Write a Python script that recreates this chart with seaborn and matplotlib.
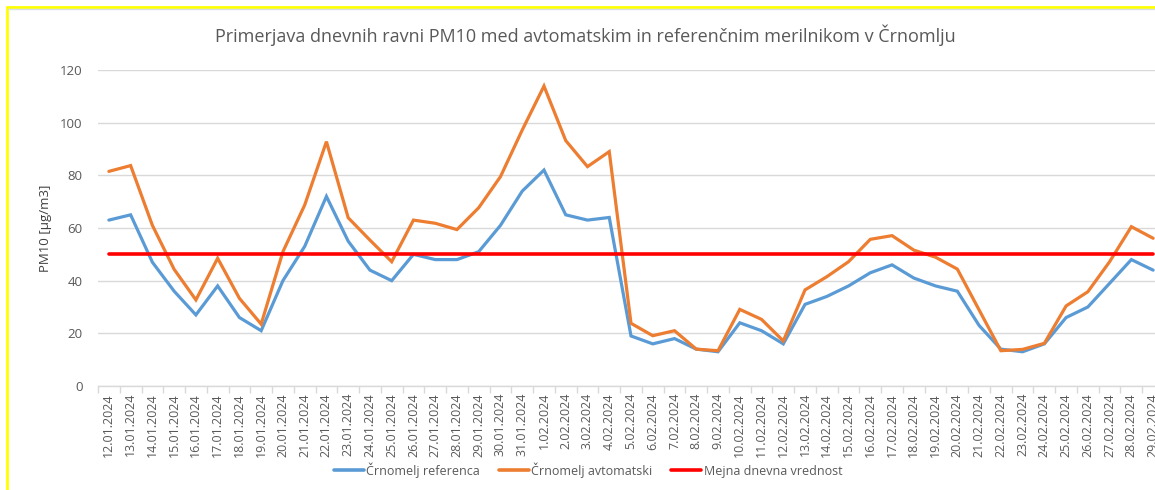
import numpy as np
import pandas as pd
import matplotlib
matplotlib.use("Agg")
import matplotlib.pyplot as plt
import seaborn as sns
from matplotlib.lines import Line2D

dates = (["%d.01.2024" % d for d in range(12, 32)] +
         ["%d.02.2024" % d for d in range(1, 30)])

referenca = [63, 65, 47, 36, 27, 38, 26, 21, 40, 53, 72, 55, 44, 40, 50, 48, 48,
             51, 61, 74, 82, 65, 63, 64, 19, 16, 18, 14, 13, 24, 21, 16,
             31, 34, 38, 43, 46, 41, 38, 36, 23, 14, 13, 16, 26, 30, 39, 48, 44]
avtomatski = [81.5, 83.7, 61, 44.3, 32.7, 48.5, 33.3, 23.5, 51, 68.7, 92.8, 63.9, 55.4,
              47.2, 63, 61.8, 59.4, 67.7, 79.5, 97.2, 113.9, 93.2, 83.3, 89, 23.8, 19.1,
              21, 14, 13.4, 29.1, 25.3, 17.1, 36.5, 41.5, 47.2, 55.7, 57.1, 51.6, 48.9,
              44.4, 28.9, 13.4, 13.9, 16.2, 30.4, 35.8, 47.2, 60.5, 56.1]
mejna = [50] * len(dates)

series_names = ["Črnomelj referenca", "Črnomelj avtomatski", "Mejna dnevna vrednost"]
colors = ["#5B9BD5", "#ED7D31", "#FF0000"]

sns.set_theme(style="white")
plt.rcParams['font.family'] = ['Open Sans', 'DejaVu Sans']

fig = plt.figure(figsize=(11.55, 4.9), dpi=100)
W, H = 1155, 490
ax_left, ax_right = 98, 1164
ax_bottom, ax_top = 386, 70
ax = fig.add_axes([ax_left / W, (H - ax_bottom) / H,
                   (ax_right - ax_left) / W, (ax_bottom - ax_top) / H])

x = np.arange(len(dates))
df = pd.DataFrame({"x": x, "ref": referenca, "avt": avtomatski, "mej": mejna})
for col, name, c, lw in zip(["ref", "avt", "mej"], series_names, colors, [2.3, 2.3, 2.6]):
    sns.lineplot(data=df, x="x", y=col, ax=ax, color=c, linewidth=lw,
                 label=name, legend=False, solid_joinstyle="miter")

ax.set_xlim(-0.5, len(dates) - 0.5)
ax.set_ylim(0, 120)
ax.set_yticks(np.arange(0, 121, 20))
ax.yaxis.grid(True, color="#D9D9D9", linewidth=1.0)
ax.set_axisbelow(True)
for s in ["top", "right", "left"]:
    ax.spines[s].set_visible(False)
ax.spines["bottom"].set_color("#D9D9D9")
ax.spines["bottom"].set_linewidth(1.0)

ax.set_xticks(x)
ax.set_xticklabels(dates, rotation=90, fontsize=9, color="#595959")
ax.tick_params(axis="x", which="major", length=0, pad=5)
ax.set_xticks(np.arange(-0.5, len(dates), 1), minor=True)
ax.tick_params(axis="x", which="minor", length=5, color="#D9D9D9", width=1, bottom=True)
ax.tick_params(axis="y", length=0, labelsize=9.5, labelcolor="#595959", pad=11)

ax.set_xlabel("")
ax.set_ylabel("PM10 [µg/m3]", fontsize=9.5, color="#404040", labelpad=6)

fig.text(585 / W, 1 - 35 / H,
         "Primerjava dnevnih ravni PM10 med avtomatskim in referenčnim merilnikom v Črnomlju",
         ha="center", va="center", fontsize=13, color="#595959")

handles = [Line2D([0], [0], color=c, linewidth=2.6) for c in colors]
fig.legend(handles, series_names, loc="center", bbox_to_anchor=(588 / W, 1 - 470 / H),
           ncol=3, frameon=False, fontsize=9, handlelength=2.4, handletextpad=0.2,
           columnspacing=1.5, labelcolor="#595959")

# frame border (yellow selection outline)
fig.add_artist(Line2D([7 / W, 7 / W], [0, 1 - 7 / H], color="#FFFF00", linewidth=2,
                      transform=fig.transFigure))
fig.add_artist(Line2D([7 / W, 1], [1 - 7 / H, 1 - 7 / H], color="#FFFF00", linewidth=2,
                      transform=fig.transFigure))
fig.add_artist(Line2D([8 / W, 1], [1 - 9.5 / H, 1 - 9.5 / H], color="#D9DEE6", linewidth=1,
                      transform=fig.transFigure))

fig.savefig("out.png", dpi=100)
